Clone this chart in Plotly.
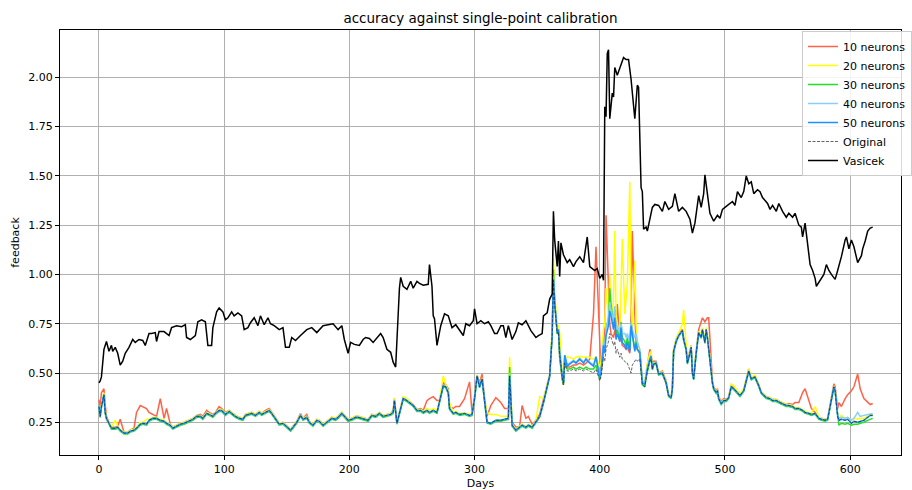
import plotly.graph_objects as go

# ---------------- data ----------------
days = [0, 1, 2, 4, 5, 6, 8, 10, 13, 15, 17, 20, 23, 25, 28, 30, 33, 35, 38, 40, 43, 46, 49, 52, 54, 57, 59,
        62, 65, 68, 72, 75, 78, 81, 83, 86, 88, 91, 93, 96, 98, 101, 104, 106, 109, 112, 115, 117, 120, 122, 125, 128, 130, 133, 136, 138,
        141, 144, 147, 150, 153, 155, 158, 161, 163, 166, 168, 171, 174, 176, 179, 182, 186, 189, 191, 194, 196, 199, 202, 205, 207, 210, 213, 215, 218, 221, 224, 227, 230, 233,
        235, 236, 238, 241, 243, 246, 249, 251, 254, 257, 259, 262, 264, 267, 270, 272, 275, 277, 279, 280, 283, 285, 288, 292, 296, 298,
        300, 302, 304, 306, 308, 310, 313, 317, 321, 324, 327, 328, 330, 333, 336, 338, 341, 343, 346, 349, 352, 355, 358, 360,
        362, 363, 364, 366, 367, 368, 370, 371, 372, 374, 376, 379, 381, 384, 387, 389, 392, 395, 397, 400,
        401, 403, 404, 405, 407, 408, 409, 411, 412, 413, 414, 416, 417, 418, 420, 421, 422, 424, 425, 426, 428, 429, 430, 432, 434, 436, 437, 438, 440, 441,
        442, 443, 445, 447, 450, 453, 455, 457, 458, 459, 461, 463, 466, 467, 469, 470, 472, 473, 474, 475, 477, 479, 481, 482, 484, 485, 486, 487, 489, 490, 491, 493, 494, 495, 497, 499,
        501, 503, 505, 507, 510, 512, 515, 517, 519, 521, 524, 527, 529, 533, 536, 538, 541, 544, 546, 549, 551, 554, 556, 559, 562, 564, 567, 569, 572, 575, 577, 580, 582, 585, 587, 588, 590, 591, 593, 596, 598, 601, 603, 606, 608, 611, 614, 616, 618]

n10 = [.365, .33, .40, .42, .34, .28, .25, .225, .225, .23, .265, .20, .20, .21, .22, .30, .335, .33, .32, .30, .29, .28, .37, .27, .32, .24, .225,
       .235, .245, .25, .26, .27, .285, .29, .28, .31, .30, .29, .30, .33, .32, .30, .31, .30, .285, .275, .27, .29, .295, .30, .29, .305, .295, .31, .32, .30,
       .275, .245, .25, .23, .215, .23, .255, .295, .27, .29, .255, .24, .265, .26, .24, .255, .275, .27, .28, .30, .285, .265, .27, .28, .28, .275, .27, .265, .29, .285, .30, .285, .29, .295,
       .31, .37, .25, .33, .375, .365, .35, .34, .315, .32, .31, .36, .37, .38, .36, .36, .45, .44, .42, .33, .32, .33, .33, .37, .455, .30,
       .38, .49, .45, .495, .37, .28, .335, .375, .35, .32, .32, .40, .25, .225, .23, .335, .27, .28, .24, .26, .29, .36, .44, .49,
       .70, 1.0, .86, .72, .72, .58, .47, .44, .56, .53, .53, .54, .54, .55, .54, .55, .57, .80, 1.14, .60,
       .50, .62, .75, 1.30, .86, .75, .70, .68, .72, .68, .85, .66, .68, .64, .63, .62, .63, .60, .80, 1.22, .80, .66, .62, .60, .46, .45, .50, .55, .62, .60,
       .54, .56, .56, .50, .51, .46, .39, .38, .43, .62, .67, .70, .72, .68, .63, .56, .61, .64, .51, .48, .61, .72, .76, .78, .76, .77, .78, .78, .55, .46, .43, .41, .42, .38, .355, .37,
       .365, .38, .44, .425, .405, .39, .415, .465, .52, .475, .485, .44, .405, .38, .375, .365, .365, .355, .35, .34, .345, .34, .35, .35, .40, .42, .36, .32, .30, .275, .27, .265, .27, .38, .445, .43, .32, .35, .33, .37, .39, .41, .43, .495, .42, .37, .35, .34, .345]

n20 = [.33, .29, .34, .40, .31, .27, .25, .225, .26, .23, .215, .20, .20, .21, .215, .225, .25, .25, .265, .265, .275, .275, .265, .26, .25, .24, .225,
       .235, .245, .25, .26, .27, .285, .285, .275, .30, .295, .285, .30, .315, .315, .295, .31, .30, .285, .275, .27, .29, .295, .30, .29, .305, .295, .305, .315, .30,
       .275, .245, .25, .23, .215, .23, .255, .29, .27, .28, .255, .24, .265, .26, .24, .255, .275, .27, .28, .30, .285, .265, .27, .28, .28, .275, .27, .265, .29, .285, .30, .285, .29, .295,
       .305, .37, .25, .33, .38, .37, .35, .34, .315, .315, .305, .32, .31, .32, .31, .36, .485, .44, .41, .35, .30, .305, .295, .30, .29, .295,
       .375, .49, .44, .475, .36, .30, .29, .29, .28, .28, .28, .58, .24, .215, .23, .24, .23, .24, .23, .26, .38, .37, .44, .49,
       .72, 1.08, .90, .745, .74, .705, .50, .47, .59, .58, .58, .57, .58, .585, .58, .58, .58, .57, .58, .53,
       .56, .72, .75, .93, .78, 1.0, .80, .86, 1.22, .80, .75, .70, 1.0, 1.18, .80, .90, .95, 1.47, .85, .70, 1.07, .75, .65, .62, .46, .45, .50, .55, .60, .61,
       .53, .55, .555, .50, .505, .455, .39, .38, .43, .63, .67, .70, .75, .82, .63, .56, .61, .64, .51, .48, .61, .71, .70, .73, .67, .73, .70, .63, .52, .455, .425, .405, .415, .375, .35, .365,
       .36, .38, .445, .435, .41, .395, .42, .47, .52, .48, .49, .44, .405, .38, .375, .365, .365, .355, .35, .34, .34, .335, .325, .325, .315, .305, .30, .295, .33, .275, .27, .265, .27, .38, .435, .415, .29, .27, .285, .27, .275, .26, .27, .265, .27, .27, .28, .29, .29]

n30 = [.32, .275, .325, .385, .295, .265, .24, .215, .215, .22, .205, .19, .19, .20, .205, .215, .235, .24, .235, .255, .265, .265, .255, .25, .24, .23, .215,
       .225, .235, .24, .25, .26, .275, .275, .265, .29, .285, .275, .29, .305, .305, .285, .30, .29, .275, .265, .26, .28, .285, .29, .28, .295, .285, .295, .305, .29,
       .265, .235, .24, .22, .205, .22, .245, .28, .26, .27, .245, .23, .255, .25, .23, .245, .265, .26, .27, .29, .275, .255, .26, .27, .27, .265, .26, .255, .28, .275, .29, .275, .28, .285,
       .295, .355, .24, .315, .365, .355, .34, .33, .305, .305, .295, .305, .295, .305, .295, .345, .43, .425, .395, .315, .29, .295, .285, .29, .28, .285,
       .365, .48, .425, .465, .345, .245, .24, .255, .255, .26, .265, .53, .23, .205, .22, .23, .22, .23, .22, .245, .275, .345, .43, .48,
       .69, 1.025, .86, .70, .71, .58, .47, .44, .55, .52, .52, .53, .52, .53, .52, .53, .52, .52, .54, .47,
       .50, .64, .62, .72, .78, .93, .85, .75, .82, .70, .72, .68, .76, .68, .66, .64, .68, .62, .76, .70, .62, .66, .62, .60, .44, .43, .475, .51, .56, .575,
       .515, .54, .545, .49, .495, .445, .38, .37, .415, .605, .655, .685, .71, .665, .615, .545, .595, .625, .495, .465, .595, .70, .675, .715, .65, .715, .675, .615, .505, .445, .415, .395, .405, .365, .34, .355,
       .355, .37, .425, .415, .395, .38, .405, .455, .505, .465, .475, .43, .395, .37, .365, .355, .355, .345, .34, .33, .33, .325, .315, .315, .305, .295, .29, .285, .29, .265, .26, .255, .26, .365, .425, .405, .27, .235, .245, .24, .245, .235, .24, .24, .245, .25, .26, .265, .27]

n40 = [.33, .28, .33, .39, .30, .27, .245, .22, .22, .225, .21, .195, .195, .205, .21, .22, .24, .245, .24, .26, .27, .27, .26, .255, .245, .235, .22,
       .23, .24, .245, .255, .265, .28, .28, .27, .295, .29, .28, .295, .31, .31, .29, .305, .295, .28, .27, .265, .285, .29, .295, .285, .30, .29, .30, .31, .295,
       .27, .24, .245, .225, .21, .225, .25, .285, .265, .275, .25, .235, .26, .255, .235, .25, .27, .265, .275, .295, .28, .26, .265, .275, .275, .27, .265, .26, .285, .28, .295, .28, .285, .29,
       .30, .36, .245, .32, .37, .36, .345, .335, .31, .31, .30, .31, .30, .31, .30, .35, .435, .43, .40, .32, .295, .30, .29, .295, .285, .29,
       .37, .485, .43, .47, .35, .25, .245, .26, .26, .265, .27, .50, .235, .21, .225, .235, .225, .235, .225, .25, .28, .35, .435, .485,
       .69, .99, .86, .71, .72, .60, .49, .46, .59, .545, .55, .565, .555, .575, .555, .575, .555, .54, .585, .48,
       .51, .66, .63, .72, .78, .86, .82, .76, .84, .72, .74, .70, .75, .70, .70, .68, .70, .66, .76, .72, .68, .70, .66, .62, .46, .45, .49, .53, .575, .59,
       .52, .545, .55, .495, .50, .45, .385, .375, .42, .61, .66, .69, .715, .67, .62, .55, .60, .63, .50, .47, .60, .705, .68, .72, .655, .72, .68, .62, .51, .45, .42, .40, .41, .37, .345, .36,
       .36, .375, .43, .42, .40, .385, .41, .46, .51, .47, .48, .435, .40, .375, .37, .36, .36, .35, .345, .335, .335, .33, .32, .32, .31, .30, .295, .29, .295, .27, .265, .26, .265, .37, .43, .41, .29, .27, .275, .27, .275, .26, .27, .30, .28, .285, .29, .295, .295]

n50 = [.33, .28, .33, .39, .30, .27, .245, .22, .22, .225, .21, .195, .195, .205, .21, .22, .24, .245, .24, .26, .27, .27, .26, .255, .245, .235, .22,
       .23, .24, .245, .255, .265, .28, .28, .27, .295, .29, .28, .295, .31, .31, .29, .305, .295, .28, .27, .265, .285, .29, .295, .285, .30, .29, .30, .31, .295,
       .27, .24, .245, .225, .21, .225, .25, .285, .265, .275, .25, .235, .26, .255, .235, .25, .27, .265, .275, .295, .28, .26, .265, .275, .275, .27, .265, .26, .285, .28, .295, .28, .285, .29,
       .30, .36, .245, .32, .37, .36, .345, .335, .31, .31, .30, .31, .30, .31, .30, .35, .435, .43, .40, .32, .295, .30, .29, .295, .285, .29,
       .37, .485, .43, .47, .35, .25, .245, .26, .26, .265, .27, .485, .235, .21, .225, .235, .225, .235, .225, .25, .28, .35, .435, .485,
       .69, .975, .855, .705, .72, .60, .485, .45, .59, .535, .545, .56, .55, .57, .55, .57, .55, .535, .58, .475,
       .50, .64, .60, .69, .74, .815, .79, .72, .78, .67, .70, .66, .73, .655, .64, .62, .655, .61, .74, .69, .61, .65, .62, .605, .45, .44, .485, .52, .57, .585,
       .52, .545, .55, .495, .50, .45, .385, .375, .42, .61, .66, .69, .715, .67, .62, .55, .60, .63, .50, .47, .60, .705, .68, .72, .655, .72, .68, .62, .51, .45, .42, .40, .41, .37, .345, .36,
       .36, .375, .43, .42, .40, .385, .41, .46, .51, .47, .48, .435, .40, .375, .37, .36, .36, .35, .345, .335, .335, .33, .32, .32, .31, .30, .295, .29, .295, .27, .265, .26, .265, .37, .43, .41, .28, .26, .265, .26, .265, .245, .255, .25, .255, .26, .275, .285, .285]

original = [.33, .28, .33, .39, .30, .27, .245, .22, .22, .225, .21, .195, .195, .205, .21, .22, .24, .245, .24, .26, .27, .27, .26, .255, .245, .235, .22,
            .23, .24, .245, .255, .265, .28, .28, .27, .295, .29, .28, .295, .31, .31, .29, .305, .295, .28, .27, .265, .285, .29, .295, .285, .30, .29, .30, .31, .295,
            .27, .24, .245, .225, .21, .225, .25, .285, .265, .275, .25, .235, .26, .255, .235, .25, .27, .265, .275, .295, .28, .26, .265, .275, .275, .27, .265, .26, .285, .28, .295, .28, .285, .29,
            .30, .36, .245, .32, .37, .36, .345, .335, .31, .31, .30, .31, .30, .31, .30, .35, .435, .43, .40, .32, .295, .30, .29, .295, .285, .29,
            .37, .485, .43, .47, .35, .25, .245, .26, .26, .265, .27, .485, .235, .21, .225, .235, .225, .235, .225, .25, .28, .35, .435, .485,
            .69, .97, .85, .70, .71, .59, .48, .44, .55, .51, .51, .52, .51, .52, .51, .52, .51, .50, .52, .46,
            .48, .58, .56, .62, .66, .70, .68, .64, .66, .60, .62, .58, .60, .57, .56, .55, .55, .52, .50, .54, .56, .57, .56, .57, .44, .43, .47, .51, .56, .57,
            .52, .545, .55, .495, .50, .45, .385, .375, .42, .61, .66, .69, .715, .67, .62, .55, .60, .63, .50, .47, .60, .705, .68, .72, .655, .72, .68, .62, .51, .45, .42, .40, .41, .37, .345, .36,
            .36, .375, .43, .42, .40, .385, .41, .46, .51, .47, .48, .435, .40, .375, .37, .36, .36, .35, .345, .335, .335, .33, .32, .32, .31, .30, .295, .29, .295, .27, .265, .26, .265, .37, .43, .41, .28, .26, .265, .26, .265, .245, .255, .25, .255, .26, .275, .285, .285]

vas_days = [0, 1, 2, 3, 4, 6, 8, 10, 11, 13,
            15, 17, 19, 21, 24, 27, 29, 32, 35, 37,
            40, 42, 45, 46, 48, 52, 56, 58, 62, 66,
            69, 70, 73, 77, 79, 82, 85, 87, 90, 91,
            94, 96, 99, 101, 103, 106, 108, 111, 114, 116,
            119, 121, 124, 127, 129, 132, 135, 137, 140, 144,
            147, 149, 152, 154, 157, 161, 166, 170, 174, 179,
            183, 187, 191, 194, 196, 199, 201, 204, 208, 211,
            213, 216, 219, 222, 225, 227, 230, 233, 235, 237,
            238, 240, 241, 243, 246, 249, 251, 254, 256, 259,
            263, 264, 266, 267, 268, 270, 273, 276, 279, 282,
            285, 288, 291, 293, 296, 299, 300, 302, 305, 308,
            311, 313, 316, 318, 321, 323, 325, 327, 330, 333,
            335, 338, 341, 345, 349, 351, 354, 355, 358, 360,
            362, 363, 364, 366, 367, 368, 369, 371, 374, 376,
            379, 381, 384, 387, 390, 392, 394, 396, 398, 400,
            402, 403, 404, 405, 406, 407, 408, 410, 411, 412,
            414, 416, 417, 419, 421, 423, 425, 428, 430, 431,
            433, 434, 435, 437, 438, 440, 442, 444, 447, 450,
            452, 455, 458, 460, 463, 466, 469, 472, 474, 476,
            479, 481, 483, 484, 486, 488, 491, 494, 496, 498,
            502, 506, 508, 510, 513, 515, 517, 519, 521, 523,
            526, 528, 530, 534, 536, 538, 541, 543, 546, 549,
            551, 554, 556, 559, 561, 562, 564, 566, 568, 570,
            572, 573, 576, 579, 581, 583, 585, 588, 590, 593,
            596, 597, 599, 601, 603, 605, 606, 609, 610, 612,
            614, 616, 618]

vasicek = [.45, .46, .48, .55, .62, .66, .61, .64, .61, .63,
           .60, .54, .56, .60, .63, .67, .655, .67, .665, .64,
           .70, .70, .705, .66, .71, .71, .69, .73, .74, .735,
           .745, .68, .67, .69, .76, .77, .76, .64, .64, .73,
           .81, .83, .81, .77, .78, .81, .79, .805, .79, .72,
           .73, .755, .78, .74, .79, .745, .78, .75, .74, .72,
           .73, .63, .63, .68, .665, .69, .72, .73, .705, .74,
           .745, .75, .72, .74, .67, .60, .655, .645, .64, .67,
           .68, .675, .655, .68, .70, .68, .62, .605, .555, .53,
           .69, .93, .985, .94, .925, .965, .93, .965, .955, .945,
           .95, 1.05, .94, .79, .775, .64, .74, .80, .79, .73,
           .745, .715, .69, .75, .74, .765, .825, .75, .765, .75,
           .76, .74, .70, .70, .74, .74, .68, .74, .67, .71,
           .755, .745, .765, .715, .68, .69, .70, .79, .805, .875,
           .90, 1.32, 1.175, 1.04, 1.17, .99, 1.16, 1.10, 1.06, 1.075,
           1.04, 1.065, 1.09, 1.06, 1.19, 1.04, 1.03, 1.02, 1.03, .98,
           1.00, .97, 1.85, 1.80, 2.12, 2.14, 1.79, 1.92, 1.90, 2.05,
           2.01, 2.05, 2.06, 2.10, 2.09, 2.09, 1.99, 1.79, 1.96, 1.95,
           1.44, 1.42, 1.23, 1.24, 1.22, 1.29, 1.34, 1.355, 1.35, 1.32,
           1.37, 1.33, 1.345, 1.41, 1.32, 1.34, 1.32, 1.28, 1.21, 1.26,
           1.40, 1.34, 1.41, 1.505, 1.40, 1.31, 1.27, 1.30, 1.285, 1.33,
           1.35, 1.37, 1.35, 1.42, 1.39, 1.42, 1.50, 1.46, 1.47, 1.41,
           1.43, 1.42, 1.39, 1.36, 1.33, 1.35, 1.32, 1.36, 1.32, 1.29,
           1.31, 1.29, 1.31, 1.25, 1.24, 1.19, 1.26, 1.16, 1.05, 1.02,
           .98, .94, .97, 1.00, 1.05, 1.02, 1.00, .975, 1.02, 1.09,
           1.175, 1.19, 1.13, 1.175, 1.14, 1.08, 1.06, 1.095, 1.13, 1.17,
           1.22, 1.235, 1.24]

series_names = ["10 neurons", "20 neurons", "30 neurons", "40 neurons", "50 neurons", "Original"]
series_values = [n10, n20, n30, n40, n50, original]
series_colors = ["#ff6347", "#ffff00", "#22e022", "#87cefa", "#1e90ff", "#222222"]

x_ticks = [0, 100, 200, 300, 400, 500, 600]
y_ticks = [0.25, 0.50, 0.75, 1.00, 1.25, 1.50, 1.75, 2.00]

for nm, vals in zip(series_names, series_values):
    if len(vals) != len(days):
        raise ValueError(f"{nm}: {len(vals)} vs {len(days)}")
if len(vasicek) != len(vas_days):
    raise ValueError(f"vasicek: {len(vasicek)} vs {len(vas_days)}")

# ---------------- figure ----------------
FONT = "DejaVu Sans"
fig = go.Figure()
for nm, vals, col in zip(series_names, series_values, series_colors):
    if nm == "Original":
        line = dict(color=col, width=0.7, dash="3px,1.5px")
    else:
        line = dict(color=col, width=1.5)
    fig.add_trace(go.Scatter(x=days, y=vals, mode="lines", name=nm, line=line))
fig.add_trace(go.Scatter(x=vas_days, y=vasicek, mode="lines", name="Vasicek",
                         line=dict(color="black", width=1.5)))

W, H = 912, 490
ml, mr, mt, mb = 60, 0, 30, 35
fig.update_layout(
    width=W, height=H,
    margin=dict(l=ml, r=mr, t=mt, b=mb, pad=0),
    paper_bgcolor="white", plot_bgcolor="white",
    font=dict(family=FONT, size=11, color="black"),
    title=dict(text="accuracy against single-point calibration", x=0.5, xref="paper",
               y=1 - 18 / H, yref="container", yanchor="middle", xanchor="center",
               font=dict(size=13.5, family=FONT, color="black")),
    showlegend=True,
    legend=dict(x=(812 - ml) / (W - ml - mr), xanchor="left",
                y=1 - (31 - mt) / (H - mt - mb), yanchor="top",
                bgcolor="rgba(255,255,255,0.85)", bordercolor="#cccccc", borderwidth=1,
                font=dict(size=11, family=FONT), itemwidth=30, tracegroupgap=0),
)
fig.update_xaxes(range=[-31.1, 640.6], tickvals=x_ticks, ticktext=[str(v) for v in x_ticks],
                 showgrid=True, gridcolor="#b0b0b0", gridwidth=0.8, zeroline=False,
                 showline=True, linecolor="black", linewidth=1, mirror=True,
                 ticks="outside", ticklen=4, tickcolor="black",
                 title=dict(text="Days", font=dict(size=11, family=FONT), standoff=4))
fig.update_yaxes(range=[0.084, 2.24], tickvals=y_ticks, ticktext=[f"{v:.2f}" for v in y_ticks],
                 showgrid=True, gridcolor="#b0b0b0", gridwidth=0.8, zeroline=False,
                 showline=True, linecolor="black", linewidth=1, mirror=True,
                 ticks="outside", ticklen=4, tickcolor="black",
                 title=dict(text="feedback", font=dict(size=11, family=FONT), standoff=6))

fig.write_html("out.html")
